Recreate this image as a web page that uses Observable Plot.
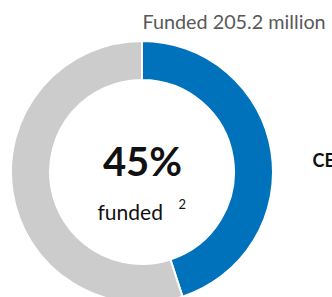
<!DOCTYPE html>
<html>
<head>
<meta charset="utf-8">
<script src="https://cdn.jsdelivr.net/npm/d3@7"></script>
<script src="https://cdn.jsdelivr.net/npm/@observablehq/plot@0.6"></script>
<style>
  html, body { margin: 0; padding: 0; background: #fff; overflow: hidden; }
  #chart { width: 332px; height: 297px; }
</style>
</head>
<body>
<div id="chart"></div>
<script>
// Data
const categories = ["Funded", "Unfunded"];
const values = [45, 55];           // percent of requirement
const colors = ["#0072BC", "#CCCCCC"];
const fundedLabel = "Funded 205.2 million";
const centerValue = "45%";
const centerLabel = "funded";
const footnote = "2";
const sideLabel = "CERF";

const data = categories.map((c, i) => ({category: c, value: values[i]}));

const W = 332, H = 297;
const cx = 142, cy = 172, rOuter = 131, rInner = 92;

// Custom donut mark using the color scale
function donut(index, scales, vals, dims) {
  const pie = d3.pie().sort(null).value(d => d.value);
  const arc = d3.arc().innerRadius(rInner).outerRadius(rOuter);
  const g = d3.create("svg:g").attr("transform", `translate(${cx},${cy})`);
  g.selectAll("path")
    .data(pie(data))
    .join("path")
    .attr("d", arc)
    .attr("fill", d => scales.color(d.data.category))
    .attr("stroke", "#fff")
    .attr("stroke-width", 2)
    .attr("stroke-linejoin", "miter");
  return g.node();
}

const chart = Plot.plot({
  width: W,
  height: H,
  margin: 0,
  x: {domain: [0, W], range: [0, W], axis: null},
  y: {domain: [0, H], range: [0, H], axis: null},
  color: {domain: categories, range: colors},
  style: {fontFamily: "Lato, 'Open Sans', sans-serif", background: "#fff"},
  marks: [
    donut,
    Plot.text([fundedLabel], {x: 142, y: 28, text: d => d, textAnchor: "start", lineAnchor: "bottom",
      fontSize: 19.8, fill: "#595959"}),
    Plot.text([centerValue], {x: 142, y: 175, text: d => d, textAnchor: "middle", lineAnchor: "bottom",
      fontSize: 40, fontWeight: "bold", fill: "#111"}),
    Plot.text([centerLabel], {x: 97, y: 219, text: d => d, textAnchor: "start", lineAnchor: "bottom",
      fontSize: 21, fill: "#111"}),
    Plot.text([footnote], {x: 178, y: 208, text: d => d, textAnchor: "start", lineAnchor: "bottom",
      fontSize: 13, fill: "#111"}),
    Plot.text([sideLabel], {x: 312, y: 166, text: d => d, textAnchor: "start", lineAnchor: "bottom",
      fontSize: 18, fontWeight: "bold", fill: "#111"})
  ]
});
document.getElementById("chart").append(chart);
</script>
</body>
</html>
